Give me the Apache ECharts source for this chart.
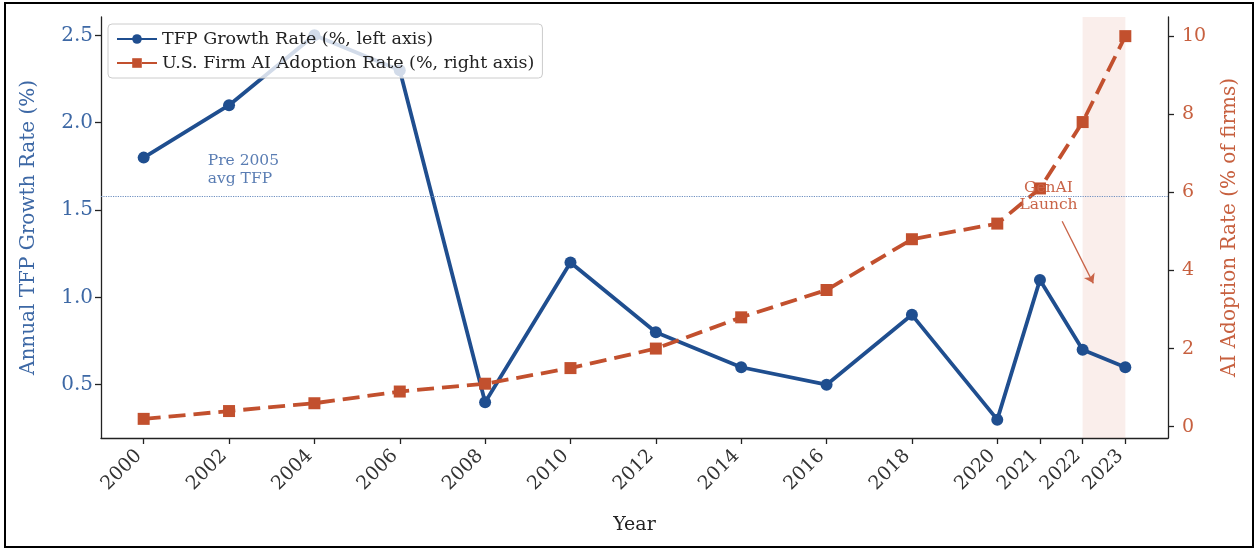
<!DOCTYPE html>
<html>
<head>
<meta charset="utf-8">
<script src="https://cdn.jsdelivr.net/npm/echarts@6/dist/echarts.min.js"></script>
<style>
html, body { margin: 0; padding: 0; background: #fff; }
#main { width: 1255px; height: 551px; }
</style>
</head>
<body>
<div id="main"></div>
<script>
// chart data
var years = [2000, 2002, 2004, 2006, 2008, 2010, 2012, 2014, 2016, 2018, 2020, 2021, 2022, 2023];
var tfpGrowth = [1.8, 2.1, 2.5, 2.3, 0.4, 1.2, 0.8, 0.6, 0.5, 0.9, 0.3, 1.1, 0.7, 0.6];
var aiAdoption = [0.2, 0.4, 0.6, 0.9, 1.1, 1.5, 2.0, 2.8, 3.5, 4.8, 5.2, 6.1, 7.8, 10.0];
var leftTicks = [0.5, 1.0, 1.5, 2.0, 2.5];
var rightTicks = [0, 2, 4, 6, 8, 10];
var pre2005Avg = 1.58;
var genAiBand = [2022, 2023];

var BLUE = '#1f4e8f';
var ORANGE = '#c2502e';
var BLUE_TXT = '#3d68a5';
var ORANGE_TXT = '#c7603f';
var FONT = 'DejaVu Serif';

function pairs(xs, ys) {
    var out = [];
    for (var i = 0; i < xs.length; i++) out.push([xs[i], ys[i]]);
    return out;
}

var myChart = echarts.init(document.getElementById('main'));
myChart.setOption({
    animation: false,
    backgroundColor: '#fff',
    textStyle: { fontFamily: FONT },
    grid: { left: 101, right: 87, top: 17, bottom: 113 },
    legend: {
        left: 108,
        top: 24,
        orient: 'vertical',
        itemWidth: 40,
        itemHeight: 12,
        itemGap: 6,
        padding: [6, 8, 6, 8],
        backgroundColor: 'rgba(255,255,255,0.8)',
        borderColor: '#cccccc',
        borderWidth: 1,
        borderRadius: 4,
        textStyle: { fontFamily: FONT, fontSize: 17.5, color: '#222' },
        data: ['TFP Growth Rate (%, left axis)', 'U.S. Firm AI Adoption Rate (%, right axis)']
    },
    xAxis: {
        type: 'value',
        min: 1999,
        max: 2024,
        name: 'Year',
        nameLocation: 'middle',
        nameGap: 78,
        nameTextStyle: { fontFamily: FONT, fontSize: 19, color: '#222' },
        axisLine: { show: true, onZero: false, lineStyle: { color: '#222', width: 1.3 } },
        axisTick: { show: true, length: 6, customValues: years, lineStyle: { color: '#222', width: 1.3 } },
        axisLabel: {
            customValues: years,
            rotate: 45,
            margin: 10,
            padding: [0, 7, 0, 0],
            fontFamily: FONT,
            fontSize: 19,
            color: '#333',
            formatter: function (v) { return String(v); }
        },
        splitLine: { show: false }
    },
    yAxis: [{
        type: 'value',
        position: 'left',
        min: 0.195,
        max: 2.605,
        name: 'Annual TFP Growth Rate (%)',
        nameLocation: 'middle',
        nameGap: 62,
        nameTextStyle: { fontFamily: FONT, fontSize: 20, color: BLUE_TXT },
        axisLine: { show: true, onZero: false, lineStyle: { color: '#222', width: 1.3 } },
        axisTick: { show: true, length: 6, customValues: leftTicks, lineStyle: { color: '#222', width: 1.3 } },
        axisLabel: {
            customValues: leftTicks,
            fontFamily: FONT,
            fontSize: 20,
            color: BLUE_TXT,
            margin: 8,
            formatter: function (v) { return v.toFixed(1); }
        },
        splitLine: { show: false }
    }, {
        type: 'value',
        position: 'right',
        min: -0.29,
        max: 10.49,
        name: 'AI Adoption Rate (% of firms)',
        nameLocation: 'middle',
        nameGap: 52,
        nameTextStyle: { fontFamily: FONT, fontSize: 20, color: ORANGE_TXT },
        axisLine: { show: true, onZero: false, lineStyle: { color: '#222', width: 1.3 } },
        axisTick: { show: true, length: 6, customValues: rightTicks, lineStyle: { color: '#222', width: 1.3 } },
        axisLabel: {
            customValues: rightTicks,
            fontFamily: FONT,
            fontSize: 19,
            color: ORANGE_TXT,
            margin: 14,
            formatter: function (v) { return String(v); }
        },
        splitLine: { show: false }
    }],
    series: [{
        name: 'TFP Growth Rate (%, left axis)',
        type: 'line',
        yAxisIndex: 0,
        data: pairs(years, tfpGrowth),
        symbol: 'circle',
        symbolSize: 12,
        itemStyle: { color: BLUE },
        lineStyle: { color: BLUE, width: 3.8 },
        markLine: {
            silent: true,
            symbol: 'none',
            label: { show: false },
            lineStyle: { color: '#6e8fc0', width: 1.2, type: 'dotted' },
            data: [{ yAxis: pre2005Avg }]
        },
        markPoint: {
            silent: true,
            symbol: 'circle',
            symbolSize: 0,
            data: [{
                coord: [2001.5, 1.73],
                label: {
                    show: true,
                    position: 'inside',
                    align: 'left',
                    formatter: 'Pre 2005\navg TFP',
                    fontFamily: FONT,
                    fontSize: 15.5,
                    lineHeight: 18,
                    color: '#5a7db3'
                }
            }, {
                coord: [2021.2, 1.58],
                label: {
                    show: true,
                    position: 'inside',
                    align: 'center',
                    formatter: 'GenAI\nLaunch',
                    fontFamily: FONT,
                    fontSize: 15.5,
                    lineHeight: 17,
                    color: '#c96448'
                }
            }]
        }
    }, {
        name: 'U.S. Firm AI Adoption Rate (%, right axis)',
        type: 'line',
        yAxisIndex: 1,
        data: pairs(years, aiAdoption),
        symbol: 'rect',
        symbolSize: 12,
        itemStyle: { color: ORANGE },
        lineStyle: { color: ORANGE, width: 3.8, type: [17, 8] },
        markArea: {
            silent: true,
            itemStyle: { color: 'rgba(225,150,130,0.16)' },
            data: [[{ xAxis: genAiBand[0] }, { xAxis: genAiBand[1] }]]
        },
        markLine: {
            silent: true,
            symbol: ['none', 'arrow'],
            symbolSize: 9,
            label: { show: false },
            lineStyle: { color: '#c96448', width: 1.3, type: 'solid' },
            data: [[{ coord: [2021.52, 5.26] }, { coord: [2022.25, 3.67] }]]
        }
    }],
    graphic: [{
        type: 'rect',
        silent: true,
        z: 100,
        shape: { x: 5, y: 3, width: 1248, height: 544 },
        style: { fill: null, stroke: '#000', lineWidth: 2 }
    }]
});
</script>
</body>
</html>
